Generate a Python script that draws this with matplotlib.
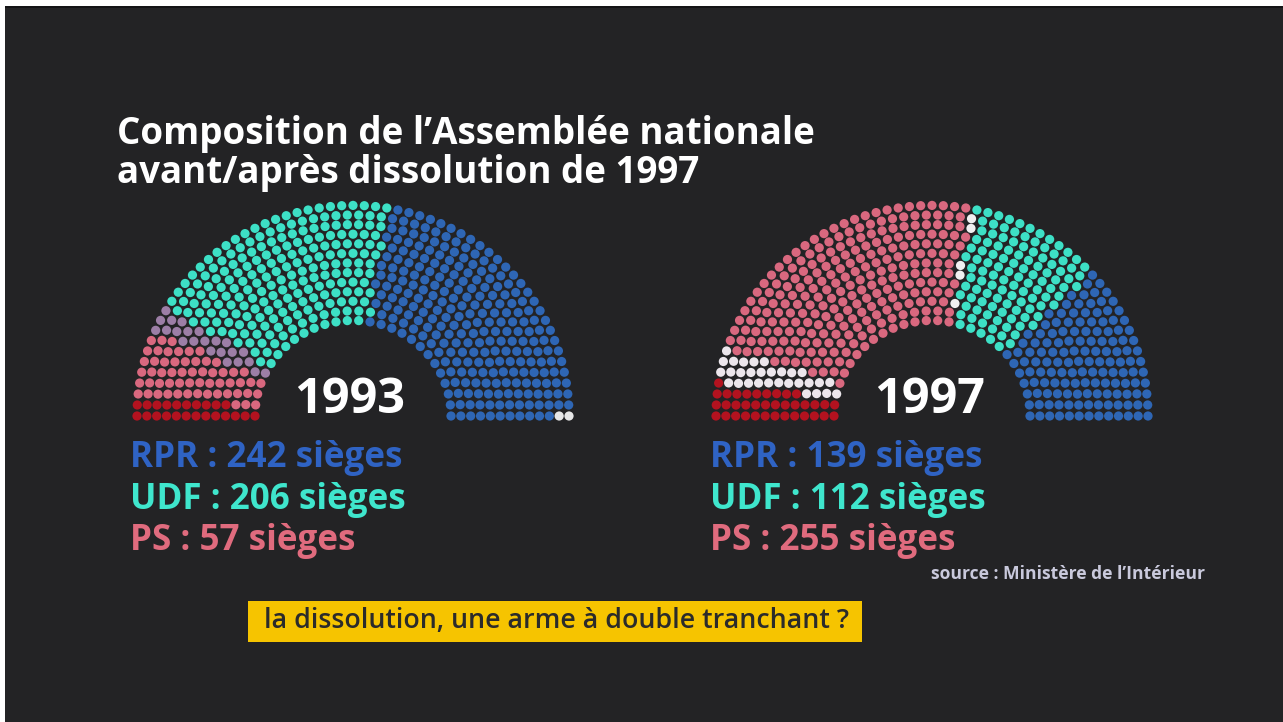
import numpy as np
import matplotlib
matplotlib.use("Agg")
import matplotlib.pyplot as plt
from matplotlib.patches import Rectangle

# ---------------- data ----------------
TOTAL_SEATS = 577
N_ROWS = 13

groups_1993 = ["PCF", "PS", "Divers gauche", "UDF", "RPR", "Non-inscrits"]
seats_1993 = [23, 57, 23, 215, 257, 2]
colors_1993 = ["#b3121f", "#d9687f", "#9c7ea6", "#3de0c6", "#2e66b5", "#e6e6e6"]

groups_1997 = ["PCF", "RCV", "PS", "Non-inscrits", "UDF", "RPR"]
seats_1997 = [36, 30, 255, 5, 112, 139]
colors_1997 = ["#b3121f", "#ece6ec", "#d9687f", "#f0f0f0", "#3de0c6", "#2e66b5"]

years = ["1993", "1997"]
labels_1993 = ["RPR : 242 sièges", "UDF : 206 sièges", "PS : 57 sièges"]
labels_1997 = ["RPR : 139 sièges", "UDF : 112 sièges", "PS : 255 sièges"]
label_colors = ["#2f63c4", "#3fe6cd", "#e06b7e"]

title_lines = ["Composition de l\u2019Assemblée nationale",
               "avant/après dissolution de 1997"]
source = "source : Ministère de l\u2019Intérieur"
banner = "la dissolution, une arme à double tranchant ?"

FONT = ["Open Sans", "DejaVu Sans"]
BG = "#232325"

# ---------------- figure ----------------
W, H = 1283, 722
fig = plt.figure(figsize=(W / 100, H / 100), dpi=100, facecolor="white")
ax = fig.add_axes([0, 0, 1, 1])
ax.set_xlim(0, W)
ax.set_ylim(H, 0)
ax.axis("off")
ax.add_patch(Rectangle((5, 6), W, H, facecolor=BG, edgecolor="none", zorder=0))
ax.add_patch(Rectangle((5, 6), W, 2, facecolor="#141416", edgecolor="none", zorder=0))


def seats_per_row(total, radii):
    raw = total * radii / radii.sum()
    base = np.floor(raw).astype(int)
    rem = total - base.sum()
    order = np.argsort(-(raw - base))
    base[order[:rem]] += 1
    return base


def draw_hemicycle(cx, cy, r_in, r_out, seats, colors, sy=0.975):
    radii = np.linspace(r_in, r_out, N_ROWS)
    per_row = seats_per_row(TOTAL_SEATS, radii)
    xs, ys, th, rows = [], [], [], []
    for i, (r, n) in enumerate(zip(radii, per_row)):
        t = np.pi * np.arange(n) / (n - 1)
        xs.append(cx - r * np.cos(t))
        ys.append(cy - r * np.sin(t) * sy)
        th.append(t)
        rows.append(np.full(n, i))
    xs = np.concatenate(xs)
    ys = np.concatenate(ys)
    th = np.round(np.concatenate(th), 9)
    rows = np.concatenate(rows)
    order = np.lexsort((rows, th))
    seat_colors = np.repeat(colors, seats)
    ax.scatter(xs[order], ys[order], s=44, c=list(seat_colors),
               linewidths=0, zorder=2)


draw_hemicycle(353, 416, 98, 216, seats_1993, colors_1993)
draw_hemicycle(932, 416, 98, 216, seats_1997, colors_1997)

# title
for k, line in enumerate(title_lines):
    ax.text(117, 144 + 39 * k, line, color="white", fontsize=26.5,
            fontweight="bold", family=FONT, va="baseline", ha="left")

# year labels
for x, yr in zip([350, 930], years):
    ax.text(x, 413, yr, color="white", fontsize=35, fontweight="bold",
            family=FONT, ha="center", va="baseline", zorder=3)

# party labels
for x, labs in zip([130, 710], [labels_1993, labels_1997]):
    for k, (lab, col) in enumerate(zip(labs, label_colors)):
        ax.text(x, 467 + 41.5 * k, lab, color=col, fontsize=25.2,
                fontweight="bold", family=FONT, ha="left", va="baseline")

# source
ax.text(1205, 579, source, color="#c9c9dc", fontsize=12.6, fontweight="bold",
        family=FONT, ha="right", va="baseline")

# yellow banner
ax.add_patch(Rectangle((248, 601), 614, 41, facecolor="#f6c400",
                       edgecolor="none", zorder=2))
ax.text(557, 628, banner, color="#2b2b2b", fontsize=19.3, fontweight="semibold",
        family=FONT, ha="center", va="baseline", zorder=3)

fig.savefig("out.png", dpi=100, facecolor="white")
